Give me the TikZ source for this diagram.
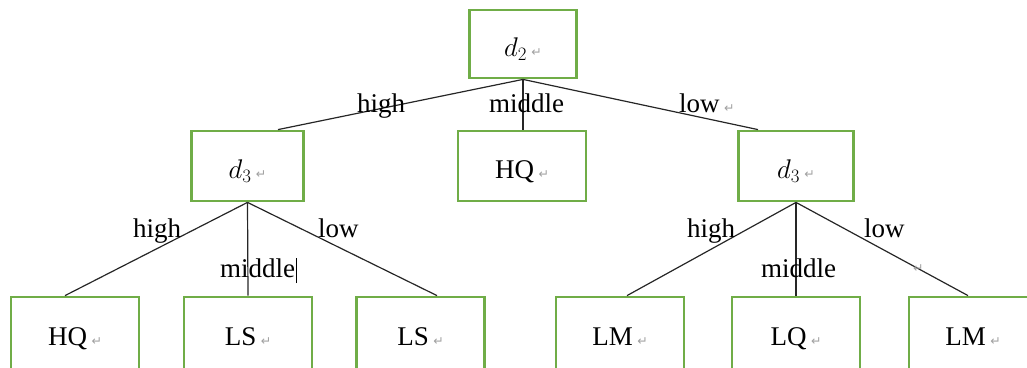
\RequirePackage{fix-cm}
\documentclass[tikz,border=0pt]{standalone}
\usepackage{fontspec}
\setmainfont{Liberation Serif}
\newfontfamily\markfont{DejaVu Sans}
\definecolor{boxgreen}{HTML}{70AD47}
\definecolor{markgray}{HTML}{A0A0A0}
% paragraph mark shown after each word
\newcommand{\pmark}{{\markfont\fontsize{12.5}{12.5}\selectfont\color{markgray}↵}}
% decision variable with a larger index
\newcommand{\dvar}[1]{$d_{\fontsize{21}{21}\selectfont #1}$}

\begin{document}
\begin{tikzpicture}[x=1pt,y=-1pt,
  font=\fontsize{27}{30}\selectfont,
  box/.style={draw=boxgreen, line width=2.8pt, minimum width=128pt,
    minimum height=70pt, inner sep=0pt, text height=24pt, text depth=0pt},
  link/.style={line width=1.2pt, draw=black!85},
  lbl/.style={inner sep=0pt, anchor=base west}]
\useasboundingbox (0,0) rectangle (1027,367);
\clip (0,0) rectangle (1027,367);

% tree nodes
\node[box, minimum width=107pt, minimum height=68pt] (root) at (523,44) {\dvar{2}\,\pmark};
\node[box, minimum width=112pt] (dl) at (247.5,166) {\dvar{3}\,\pmark};
\node[box] (hq) at (522,166) {HQ\,\pmark};
\node[box, minimum width=115pt] (dr) at (796,166) {\dvar{3}\,\pmark};

\node[box, minimum height=72pt] (b1) at (75,333)    {HQ\,\pmark};
\node[box, minimum height=72pt] (b2) at (248,333)   {LS\,\pmark};
\node[box, minimum height=72pt] (b3) at (420.5,333) {LS\,\pmark};
\node[box, minimum height=72pt] (b4) at (620,333)   {LM\,\pmark};
\node[box, minimum height=72pt] (b5) at (796,333)   {LQ\,\pmark};
\node[box, minimum height=72pt] (b6) at (973,333)   {LM\,\pmark};

% branches
\draw[link] (root.south) -- ([xshift=30.5pt]dl.north);
\draw[link] (root.south) -- (root.south |- hq.north);
\draw[link] (root.south) -- ([xshift=-38pt]dr.north);

\draw[link] (dl.south) -- ([xshift=-10pt]b1.north);
\draw[link] (dl.south) -- (b2.north);
\draw[link] (dl.south) -- ([xshift=16.5pt]b3.north);

\draw[link] (dr.south) -- ([xshift=7pt]b4.north);
\draw[link] (dr.south) -- (b5.north);
\draw[link] (dr.south) -- ([xshift=-5pt]b6.north);

% branch labels
\node[lbl] (t1) at (357,112) {high};
\node[lbl] (t2) at (489,112) {middle};
\node[lbl] (t3) at (679,112) {low\,\pmark};

\node[lbl] (l1) at (133,237) {high};
\node[lbl] (l2) at (220,277) {middle};
\node[lbl] (l3) at (318,237) {low};

\node[lbl] (r1) at (687,237) {high};
\node[lbl] (r2) at (761,277) {middle};
\node[lbl] (r3) at (864,237) {low};
\node[lbl] (rm) at (913,272) {\pmark};

% text caret
\draw[line width=1pt] ([xshift=1pt,yshift=-6pt]l2.base east) -- ([xshift=1pt,yshift=19pt]l2.base east);
\end{tikzpicture}
\end{document}
